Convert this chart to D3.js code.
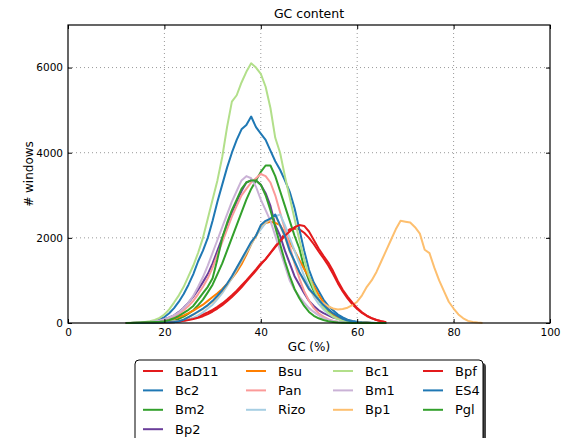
<!DOCTYPE html>
<html><head><meta charset="utf-8">
<script src="https://cdn.jsdelivr.net/npm/d3@7"></script>
<style>
body{margin:0;background:#fff;}
text{font-family:"DejaVu Sans",sans-serif;fill:#000;}
</style></head>
<body><svg id="c" width="571" height="438"></svg>
<script>
// GC (%) bins: every series starts at 12 % and has one value per 1 %
const gcStart = 12;
const xTicks = [0,20,40,60,80,100];
const yTicks = [0,2000,4000,6000];

const BaD11 = [0,0,1,2,4,6,8,10,15,20,25,35,55,80,110,150,200,250,310,380,460,550,650,760,880,1000,1130,1260,1400,1500,1650,1800,1950,2100,2200,2220,2200,2120,2000,1850,1680,1520,1350,1150,930,740,580,440,330,235,165,110,70,40,20];
const Bc2 = [0,2,5,10,18,28,45,80,140,230,350,500,680,900,1150,1450,1700,2000,2400,2850,3250,3650,4000,4300,4550,4650,4850,4600,4450,4300,4050,3800,3600,3350,3080,2700,2200,1700,1250,950,750,550,400,300,200,130,80,50,30,15,8,4,2,1,0];
const Bm2 = [0,0,2,5,10,15,20,30,40,50,50,100,150,220,300,420,550,720,900,1150,1400,1700,2000,2300,2600,2900,3150,3350,3550,3700,3700,3450,3100,2750,2400,2050,1750,1300,1000,750,550,380,260,180,110,70,40,25,12,6,3,1,0,0,0];
const Bp2 = [0,2,5,10,15,25,40,60,90,130,180,260,360,480,620,780,960,1150,1400,1700,2000,2300,2600,2850,3100,3300,3350,3350,3250,3050,2750,2300,2050,1700,1400,1100,900,700,520,400,300,230,180,130,100,70,40,25,12,6,3,1,0,0,0];
const Bsu = [0,0,1,3,6,10,15,25,45,70,100,140,180,230,290,360,430,520,610,700,800,920,1050,1200,1380,1600,1850,2050,2250,2350,2380,2350,2300,2100,1900,1700,1480,1270,1080,870,660,480,320,210,140,90,55,30,15,8,4,2,1,0,0];
const Pan = [0,1,3,6,10,18,30,50,80,100,150,220,300,400,520,680,850,1050,1300,1600,1900,2200,2500,2750,3000,3150,3300,3400,3500,3450,3300,3000,2600,2200,1800,1400,1050,750,520,350,230,150,90,50,30,15,8,4,2,1,0,0,0,0,0];
const Rizo = [0,0,1,2,4,6,10,15,20,30,40,45,50,80,120,180,250,340,430,560,700,870,1050,1250,1450,1650,1850,2050,2200,2350,2450,2500,2550,2300,2000,1700,1400,1100,850,620,450,320,220,150,90,55,30,15,8,4,2,1,0,0,0];
const Bc1 = [0,5,10,15,25,40,70,120,200,320,480,650,850,1100,1350,1650,2000,2450,2900,3350,3900,4600,5200,5350,5650,5900,6100,6000,5850,5550,5050,4350,4000,3450,2950,2450,1950,1500,1100,800,550,370,240,150,90,50,30,15,8,4,2,1,0,0,0];
const Bm1 = [0,2,5,10,15,25,40,60,90,130,180,250,350,480,640,850,1080,1350,1650,1950,2250,2550,2850,3100,3350,3450,3400,3200,2900,2650,2400,2050,1700,1350,1000,780,620,480,350,260,180,120,80,50,30,15,8,4,2,1,0,0,0,0,0];
const Bp1 = [0,0,1,2,4,6,8,10,14,19,19,38,77,135,195,262,330,410,
  500,620,750,900,1080,1280,1480,1680,1880,2030,2280,2380,2430,2530,2280,2030,1680,1430,1180,980,790,660,540,
  460,390,340,315,330,360,420,500,650,850,1000,1200,1450,1700,1950,2200,2400,2380,2360,2250,2100,1720,1640,1300,1000,750,500,340,200,110,50,25,10,0];
const Bpf = [0,0,1,2,4,6,8,10,15,20,25,35,50,70,95,125,160,210,270,340,420,510,610,720,840,970,1100,1230,1370,1500,1640,1780,1920,2050,2150,2250,2300,2280,2150,1950,1750,1580,1420,1220,980,780,620,480,350,250,175,115,70,40,20];
const ES4 = [0,0,1,2,4,6,8,10,15,20,20,40,80,140,200,270,340,420,520,640,770,920,1100,1300,1500,1700,1900,2050,2300,2400,2450,2550,2300,2050,1700,1450,1200,1000,800,680,550,420,320,230,160,100,60,35,20,10,5,2,1,0,0];
const Pgl = [0,2,5,10,15,20,25,30,40,70,110,170,240,310,400,550,700,850,1050,1500,2000,2350,2650,2900,3150,3300,3350,3350,3250,3000,2650,2250,1850,1450,1100,800,580,400,260,170,110,70,40,25,12,6,3,1,0,0,0,0,0,0,0];

const names  = ["BaD11","Bc2","Bm2","Bp2","Bsu","Pan","Rizo","Bc1","Bm1","Bp1","Bpf","ES4","Pgl"];
const values = [BaD11,Bc2,Bm2,Bp2,Bsu,Pan,Rizo,Bc1,Bm1,Bp1,Bpf,ES4,Pgl];
const colors = ["#e31a1c","#1f78b4","#33a02c","#6a3d9a","#ff7f00","#fb9a99","#a6cee3","#b2df8a","#cab2d6","#fdbf6f","#e31a1c","#1f78b4","#33a02c"];

const svg = d3.select("#c");
const L=68,R=550,T=25,B=323;
const x = d3.scaleLinear().domain([0,100]).range([L,R]);
const y = d3.scaleLinear().domain([0,7000]).range([B,T]);

// grid
const g = svg.append("g");
g.selectAll(".gx").data(xTicks.slice(1,-1)).join("line")
  .attr("x1",d=>x(d)).attr("x2",d=>x(d)).attr("y1",T).attr("y2",B)
  .attr("stroke","#999").attr("stroke-width",1).attr("stroke-dasharray","1,3");
g.selectAll(".gy").data(yTicks.slice(1)).join("line")
  .attr("x1",L).attr("x2",R).attr("y1",d=>y(d)).attr("y2",d=>y(d))
  .attr("stroke","#999").attr("stroke-width",1).attr("stroke-dasharray","1,3");

// lines
const line = d3.line().x(d=>x(d[0])).y(d=>y(d[1]));
values.forEach((vals,i)=>{
  const pts = vals.map((v,j)=>[gcStart+j, v]);
  svg.append("path").datum(pts).attr("d",line)
    .attr("fill","none").attr("stroke",colors[i]).attr("stroke-width",2)
    .attr("stroke-linejoin","round");
});

// axes
const fmt = d3.format("d");
const xa = svg.append("g").attr("transform",`translate(0,${B})`)
  .call(d3.axisBottom(x).tickValues(xTicks).tickFormat(fmt).tickSizeInner(-4).tickSizeOuter(0).tickPadding(6));
const ya = svg.append("g").attr("transform",`translate(${L},0)`)
  .call(d3.axisLeft(y).tickValues(yTicks).tickFormat(fmt).tickSizeInner(-4).tickSizeOuter(0).tickPadding(5));
const xt = svg.append("g").attr("transform",`translate(0,${T})`)
  .call(d3.axisTop(x).tickValues(xTicks).tickFormat("").tickSizeInner(-4).tickSizeOuter(0));
const yr = svg.append("g").attr("transform",`translate(${R},0)`)
  .call(d3.axisRight(y).tickValues(yTicks).tickFormat("").tickSizeInner(-4).tickSizeOuter(0));
[xa,ya,xt,yr].forEach(a=>{a.selectAll("text").style("font-family","DejaVu Sans").style("font-size","10.5px").attr("fill","#000");
  a.select(".domain").remove(); a.selectAll("line").attr("stroke","#000");});
svg.append("rect").attr("x",L).attr("y",T).attr("width",R-L).attr("height",B-T)
  .attr("fill","none").attr("stroke","#000").attr("stroke-width",1.2);

svg.append("text").attr("x",(L+R)/2).attr("y",18).attr("text-anchor","middle").style("font-size","12.5px").text("GC content");
svg.append("text").attr("x",(L+R)/2).attr("y",351).attr("text-anchor","middle").style("font-size","12px").text("GC (%)");
svg.append("text").attr("transform",`translate(33,${(T+B)/2}) rotate(-90)`).attr("text-anchor","middle").style("font-size","12px").text("# windows");

// legend
const lg = svg.append("g");
lg.append("rect").attr("x",138).attr("y",363).attr("width",348).attr("height",100).attr("rx",4)
  .attr("fill","#444");
lg.append("rect").attr("x",135).attr("y",360).attr("width",348).attr("height",100).attr("rx",4)
  .attr("fill","#fff").attr("stroke","#000").attr("stroke-width",1);
const colX = [143,246,333,423];
const order = [[0,1,2,3],[4,5,6],[7,8,9],[10,11,12]];
order.forEach((col,ci)=>{
  col.forEach((si,ri)=>{
    const yy = 371 + ri*19.4;
    lg.append("line").attr("x1",colX[ci]).attr("x2",colX[ci]+20).attr("y1",yy).attr("y2",yy)
      .attr("stroke",colors[si]).attr("stroke-width",2);
    lg.append("text").attr("x",colX[ci]+32).attr("y",yy+4.5).style("font-size","13px").text(names[si]);
  });
});
</script></body></html>
